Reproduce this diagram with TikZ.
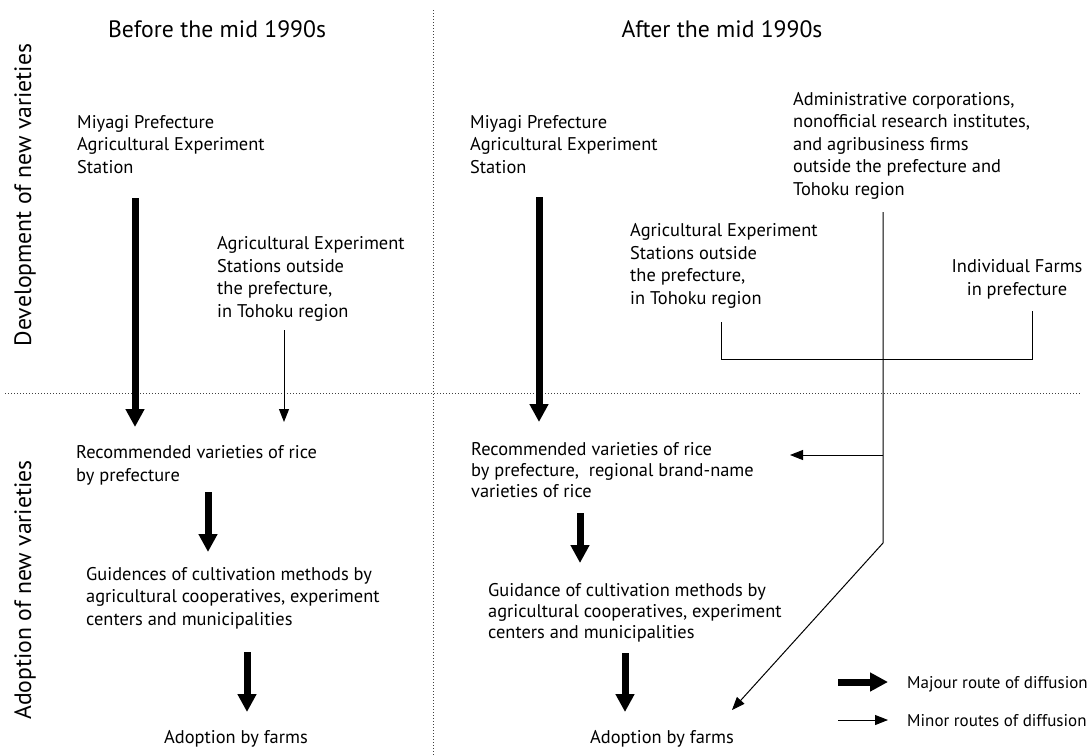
\documentclass[tikz,border=0pt]{standalone}
\usepackage{fontspec}
\setmainfont{PT Sans}
\usetikzlibrary{arrows.meta}
\begin{document}
\begin{tikzpicture}[x=1pt,y=-1pt,
  txt/.style={inner sep=0pt, align=left, anchor=base west, font=\fontsize{18.4}{22.4}\selectfont},
  ctxt/.style={inner sep=0pt, align=center, anchor=base, font=\fontsize{18.4}{22.4}\selectfont},
  ttl/.style={inner sep=0pt, font=\fontsize{23.7}{28}\selectfont},
  lgd/.style={inner sep=0pt, anchor=base west, font=\fontsize{17}{20}\selectfont},
  major/.style={line width=7pt, -{Triangle[width=18pt,length=18pt]}},
  minor/.style={line width=1pt, -{Triangle[width=10pt,length=13pt]}},
  thin/.style={line width=1pt},
  sep/.style={line width=1pt, black!75, dash pattern=on 1pt off 2pt}]
\useasboundingbox (0,0) rectangle (1091,755);
% separators
\draw[sep] (433,10) -- (433,755);
\draw[sep] (5,393) -- (1080,393);
% titles
\node[ttl] (tb) at (217,29) {Before the mid 1990s};
\node[ttl] (ta) at (722,29) {After the mid 1990s};
\node[ttl, rotate=90] (rdev) at (25,195) {Development of new varieties};
\node[ttl, rotate=90] (radp) at (25,590) {Adoption of new varieties};
% left column (anchor = baseline of last line)
\node[txt] (miyL) at (77,173) {Miyagi Prefecture\\Agricultural Experiment\\Station};
\node[txt] (aesL) at (217,317) {Agricultural Experiment\\Stations outside\\the prefecture,\\in Tohoku region};
\node[txt] (recL) at (76,481) {Recommended varieties of rice\\by prefecture};
\node[txt] (guiL) at (86,625) {Guidences of cultivation methods by\\agricultural cooperatives, experiment\\centers and municipalities};
\node[ctxt] (adoL) at (236,743) {Adoption by farms};
% right column
\node[txt] (miyR) at (470,173) {Miyagi Prefecture\\Agricultural Experiment\\Station};
\node[txt] (admR) at (793,195) {Administrative corporations,\\nonofficial research institutes,\\and agribusiness firms\\outside the prefecture and\\Tohoku region};
\node[txt] (aesR) at (630,304) {Agricultural Experiment\\Stations outside\\the prefecture,\\in Tohoku region};
\node[ctxt] (indR) at (1017,295) {Individual Farms\\in prefecture};
\node[txt, font=\fontsize{18.4}{21}\selectfont] (recR) at (471,497) {Recommended varieties of rice\\by prefecture,\ \ regional brand-name\\varieties of rice};
\node[txt, font=\fontsize{18.4}{20.8}\selectfont] (guiR) at (488,638) {Guidance of cultivation methods by\\agricultural cooperatives, experiment\\centers and municipalities};
\node[ctxt] (adoR) at (662,743) {Adoption by farms};
% legend
\node[lgd] (lmaj) at (907,688) {Majour route of diffusion};
\node[lgd] (lmin) at (907,726) {Minor routes of diffusion};
% connector end points
\coordinate (a1s) at (135,198); \coordinate (a1e) at (135,427);
\coordinate (a2s) at (284,330); \coordinate (a2e) at (284,422);
\coordinate (a3s) at (208,492); \coordinate (a3e) at (208,552);
\coordinate (a4s) at (247,652); \coordinate (a4e) at (247,712);
\coordinate (b1s) at (539,197); \coordinate (b1e) at (539,422);
\coordinate (b2s) at (580,513); \coordinate (b2e) at (580,563);
\coordinate (b3s) at (625,653); \coordinate (b3e) at (625,712);
\coordinate (v0) at (883,212); \coordinate (vb) at (883,455);
\coordinate (v1) at (883,543); \coordinate (ve) at (732,710);
\coordinate (be) at (790,455);
\coordinate (k1) at (721,322); \coordinate (k2) at (721,359);
\coordinate (k3) at (1032,359); \coordinate (k4) at (1032,311);
\coordinate (m1) at (838,682); \coordinate (m2) at (888,682);
\coordinate (n1) at (838,720); \coordinate (n2) at (888,720);
% arrows
\draw[major] (a1s) -- (a1e);
\draw[minor] (a2s) -- (a2e);
\draw[major] (a3s) -- (a3e);
\draw[major] (a4s) -- (a4e);
\draw[major] (b1s) -- (b1e);
\draw[major] (b2s) -- (b2e);
\draw[major] (b3s) -- (b3e);
\draw[thin] (k1) -- (k2) -- (k3) -- (k4);
\draw[minor] (v0) -- (v1) -- (ve);
\draw[minor] (vb) -- (be);
\draw[major] (m1) -- (m2);
\draw[minor] (n1) -- (n2);
\end{tikzpicture}
\end{document}
